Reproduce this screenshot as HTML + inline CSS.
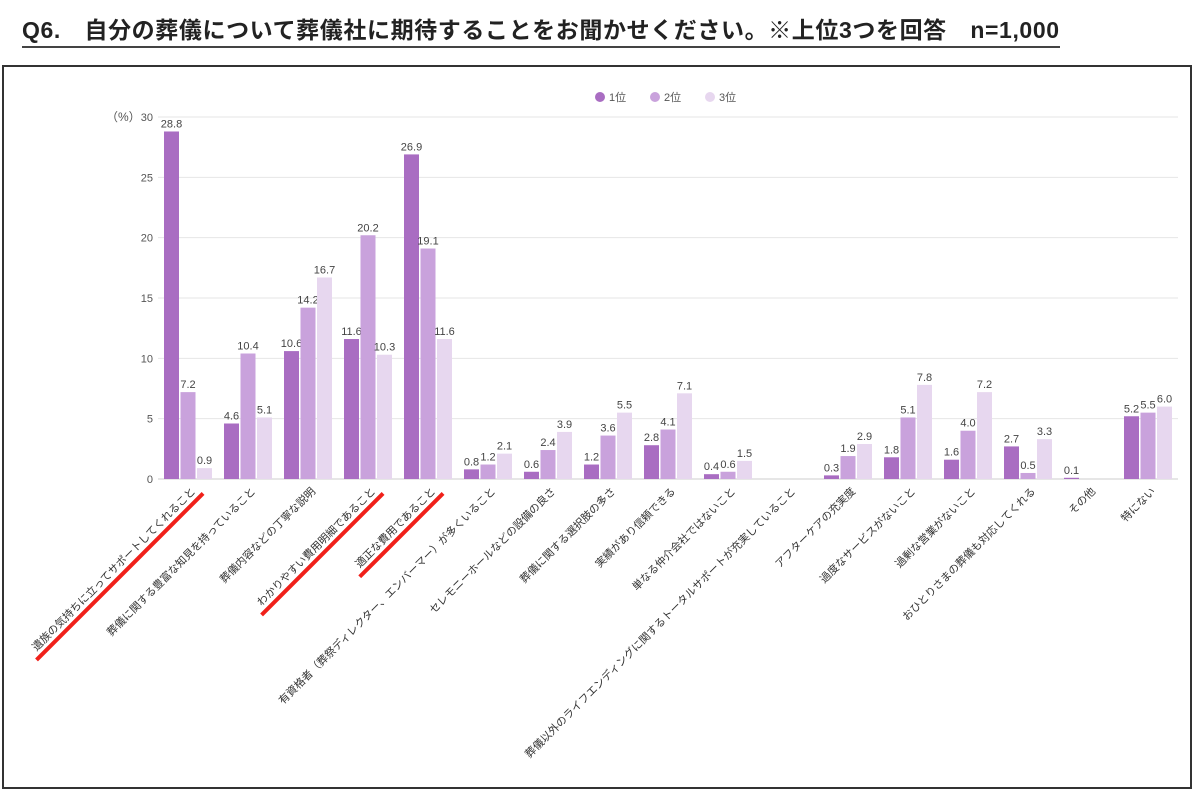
<!DOCTYPE html>
<html><head><meta charset="utf-8"><style>
body{margin:0;background:#fff;width:1200px;height:790px;overflow:hidden;font-family:"Liberation Sans","Noto Sans CJK JP",sans-serif}
#title{position:absolute;left:22px;top:15px;font-size:23px;letter-spacing:0.6px;font-weight:bold;color:#222;border-bottom:2px solid #444;line-height:31px;white-space:nowrap}
#frame{position:absolute;left:2px;top:65px;width:1186px;height:720px;border:2px solid #333}
svg{position:absolute;left:0;top:0}
</style></head><body>
<div id="title">Q6.　自分の葬儀について葬儀社に期待することをお聞かせください。※上位3つを回答　n=1,000</div>
<div id="frame"></div>
<svg id="chart" width="1200" height="790"></svg>
<script>
const categories=["遺族の気持ちに立ってサポートしてくれること","葬儀に関する豊富な知見を持っていること","葬儀内容などの丁寧な説明","わかりやすい費用明細であること","適正な費用であること","有資格者（葬祭ディレクター、エンバーマー）が多くいること","セレモニーホールなどの設備の良さ","葬儀に関する選択肢の多さ","実績があり信頼できる","単なる仲介会社ではないこと","葬儀以外のライフエンディングに関するトータルサポートが充実していること","アフターケアの充実度","過度なサービスがないこと","過剰な営業がないこと","おひとりさまの葬儀も対応してくれる","その他","特にない"];
const rank1=[28.8,4.6,10.6,11.6,26.9,0.8,0.6,1.2,2.8,0.4,null,0.3,1.8,1.6,2.7,0.1,5.2];
const rank2=[7.2,10.4,14.2,20.2,19.1,1.2,2.4,3.6,4.1,0.6,null,1.9,5.1,4.0,0.5,null,5.5];
const rank3=[0.9,5.1,16.7,10.3,11.6,2.1,3.9,5.5,7.1,1.5,null,2.9,7.8,7.2,3.3,null,6.0];
const seriesNames=["1位","2位","3位"];
const yTicks=[0,5,10,15,20,25,30];
const underlined=[0,3,4];
const colors=["#a96dc2","#c9a2dc","#e7d7ef"];
const svg=document.getElementById('chart');
const NS="http://www.w3.org/2000/svg";
const plotL=158,plotR=1178,y0=479,y30=117;
const band=60;
const y=v=>y0-(v/30)*(y0-y30);
const xc=i=>plotL+band/2+i*band;
function mk(t,a,p){const e=document.createElementNS(NS,t);for(const k in a)e.setAttribute(k,a[k]);(p||svg).appendChild(e);return e;}
yTicks.forEach(t=>{
 const l=mk('line',{x1:plotL,x2:plotR,y1:y(t),y2:y(t),stroke:t===0?'#ccc':'#e6e6e6','stroke-width':1});
 
 
 const tx=mk('text',{x:153,y:y(t)+4,'font-size':11,fill:'#555','text-anchor':'end'});tx.textContent=t;
 
 
});
const unit=mk('text',{x:106,y:121,'font-size':12,fill:'#555'});unit.textContent='（%）';


const series=[rank1,rank2,rank3];
const bw=15,pitch=16.5;
categories.forEach((c,i)=>{
 series.forEach((s,k)=>{
  const v=s[i];if(v==null)return;
  const bx=xc(i)+(k-1)*pitch-bw/2;
  const r=mk('rect',{x:bx,y:y(v),width:bw,height:y0-y(v),fill:colors[k]});
  
  
  const t=mk('text',{x:bx+bw/2,y:y(v)-4,'font-size':11,fill:'#444','text-anchor':'middle'});t.textContent=v.toFixed(1);
  
  
 });
 const lx=xc(i)+8,ly=492;
 const g=mk('g',{transform:`translate(${lx},${ly}) rotate(-45)`});
 
 
 const t=mk('text',{x:0,y:0,'font-size':10.8,fill:'#333','text-anchor':'end'},g);t.textContent=c;
 
 
 if(underlined.includes(i)){
  const w=t.getComputedTextLength();
  const u=mk('line',{x1:-w-6,x2:4,y1:6,y2:6,stroke:'#f0201a','stroke-width':4},g);
  
  
 }
});
seriesNames.forEach((n,k)=>{
 const lx=600+k*55;
 const c=mk('circle',{cx:lx,cy:97,r:5,fill:colors[k]});
 
 
 const t=mk('text',{x:lx+9,y:101,'font-size':11,fill:'#555'});t.textContent=n;
 
 
});
</script>
</body></html>
